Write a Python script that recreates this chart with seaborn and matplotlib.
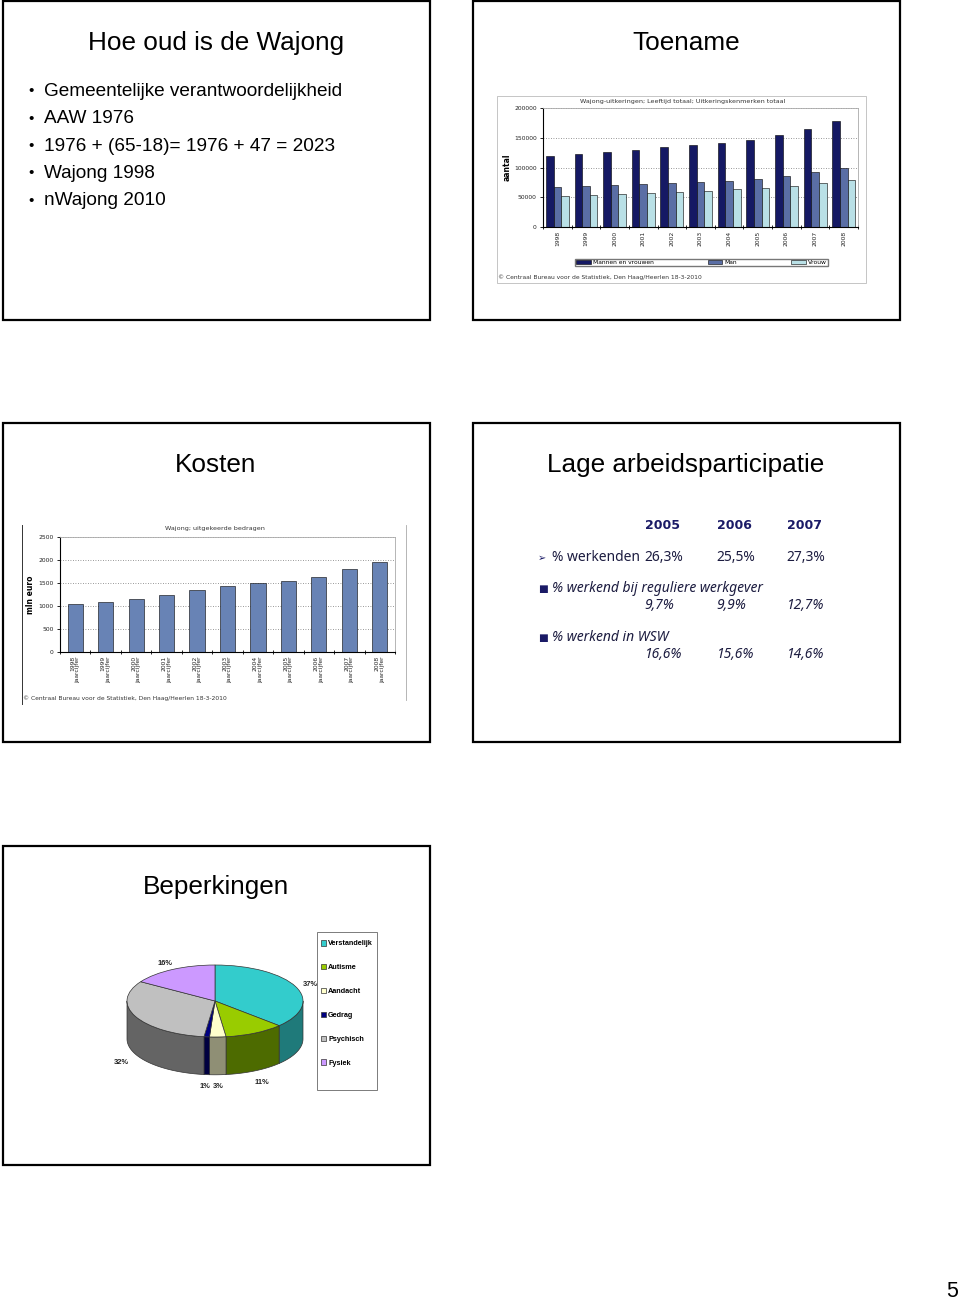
import numpy as np
import pandas as pd
import seaborn as sns
import matplotlib
matplotlib.use('Agg')
import matplotlib.pyplot as plt
from matplotlib.patches import Rectangle, Polygon
from matplotlib.lines import Line2D

# --- data -------------------------------------------------------------
years = ['1998', '1999', '2000', '2001', '2002', '2003', '2004', '2005', '2006', '2007', '2008']
groups = ['Mannen en vrouwen', 'Man', 'Vrouw']
totaal = [119000, 122700, 126600, 130000, 133900, 137800, 141200, 146800, 155200, 165300, 177600]
man = [67200, 68900, 71100, 71700, 73400, 75600, 77300, 80700, 85200, 92400, 98600]
vrouw = [51500, 53200, 56000, 57100, 59400, 61100, 63900, 65000, 68900, 73900, 78400]

kosten_labels = [y + '\njaarcijfer' for y in years]
kosten = [1050, 1090, 1160, 1250, 1345, 1435, 1490, 1550, 1640, 1795, 1965]

part_years = ['2005', '2006', '2007']
part_rows = ['% werkenden', '% werkend bij reguliere werkgever', '% werkend in WSW']
part_vals = [['26,3%', '25,5%', '27,3%'],
             ['9,7%', '9,9%', '12,7%'],
             ['16,6%', '15,6%', '14,6%']]

pie_labels = ['Verstandelijk', 'Autisme', 'Aandacht', 'Gedrag', 'Psychisch', 'Fysiek']
pie_vals = [37, 11, 3, 1, 32, 16]

bullets = ['Gemeentelijke verantwoordelijkheid', 'AAW 1976',
           '1976 + (65-18)= 1976 + 47 = 2023', 'Wajong 1998', 'nWajong 2010']

toename_colors = ['#151964', '#5a6ea5', '#b9e0e6']
kosten_color = '#6883b5'
pie_top = ['#33cccc', '#99cc00', '#ffffcc', '#000080', '#c0c0c0', '#cc99ff']
pie_side = ['#1f7a7a', '#4d6b00', '#8f8f75', '#000040', '#646464', '#7a5c99']

SRC = '\u00a9 Centraal Bureau voor de Statistiek, Den Haag/Heerlen 18-3-2010'

# --- page geometry (pixels) --------------------------------------------
W, H = 960, 1301


def fx(x):
    return x / W


def fy(y):
    return 1 - y / H


def rect(x0, y0, x1, y1):
    return [x0 / W, 1 - y1 / H, (x1 - x0) / W, (y1 - y0) / H]


fig = plt.figure(figsize=(W / 100, H / 100), dpi=100)
SLIDE = 'Liberation Sans'
CH = 'DejaVu Sans'

slides = [(3, 1, 430, 320), (473, 1, 900, 320), (3, 423, 430, 742),
          (473, 423, 900, 742), (3, 846, 430, 1165)]
for x0, y0, x1, y1 in slides:
    fig.add_artist(Rectangle((fx(x0), fy(y1)), (x1 - x0) / W, (y1 - y0) / H,
                             transform=fig.transFigure, fill=False, ec='black', lw=1.6))

titles = [('Hoe oud is de Wajong', 216, 50), ('Toename', 686, 50), ('Kosten', 216, 472),
          ('Lage arbeidsparticipatie', 686, 472), ('Beperkingen', 216, 894)]
for t, x, y in titles:
    fig.text(fx(x), fy(y), t, ha='center', va='baseline', fontsize=18.8, family=SLIDE)

for i, b in enumerate(bullets):
    y = 96 + i * 27.3
    fig.text(fx(31), fy(y - 0.5), '\u2022', ha='center', va='baseline', fontsize=11, family=SLIDE)
    fig.text(fx(44), fy(y), b, ha='left', va='baseline', fontsize=13.7, family=SLIDE)

fig.text(fx(952), fy(1297), '5', ha='center', va='baseline', fontsize=15.5, family=SLIDE)


def style_bar_axes(ax, ticks, n):
    ax.set_ylim(ticks[0], ticks[-1])
    ax.set_yticks(ticks)
    ax.set_yticklabels([str(t) for t in ticks], fontsize=4.3, family=CH, color='#222')
    ax.tick_params(axis='y', length=2.5, width=0.6, pad=2)
    ax.set_xticks(np.arange(-0.5, n + 0.5), minor=True)
    ax.tick_params(axis='x', which='major', length=0, pad=3)
    ax.tick_params(axis='x', which='minor', length=3.5, width=0.6, direction='inout')
    ax.yaxis.grid(True, linestyle=(0, (1, 2)), color='#777777', lw=0.6)
    ax.set_axisbelow(True)
    for s in ['left', 'bottom']:
        ax.spines[s].set_color('black')
        ax.spines[s].set_linewidth(0.8)
    for s in ['top', 'right']:
        ax.spines[s].set_color('#aaaaaa')
        ax.spines[s].set_linewidth(0.6)
    ax.set_xlabel('')


# --- Toename ------------------------------------------------------------
df_t = pd.DataFrame({
    'jaar': years * 3,
    'aantal': totaal + man + vrouw,
    'groep': [g for g in groups for _ in years],
})
ax1 = fig.add_axes(rect(543, 108, 858, 227))
sns.barplot(data=df_t, x='jaar', y='aantal', hue='groep', palette=toename_colors,
            saturation=1, edgecolor='black', linewidth=0.4, errorbar=None, ax=ax1)
handles, labels = ax1.get_legend_handles_labels()
ax1.get_legend().remove()
style_bar_axes(ax1, [0, 50000, 100000, 150000, 200000], len(years))
ax1.set_xticks(range(len(years)))
ax1.set_xticklabels(years, rotation=90, fontsize=4.3, family=CH, color='#222')
ax1.set_ylabel('aantal', fontsize=5.5, fontweight='bold', family=CH)
ax1.yaxis.set_label_coords(-0.10, 0.5)

fig.add_artist(Rectangle((fx(497), fy(283)), 369 / W, 187 / H, transform=fig.transFigure,
                         fill=False, ec='#bbbbbb', lw=0.6))
fig.text(fx(683), fy(101), 'Wajong-uitkeringen; Leeftijd totaal; Uitkeringskenmerken totaal',
         ha='center', va='center', fontsize=4.6, family=CH, color='#333')
fig.legend(handles, labels, ncol=3, loc='center', mode='expand',
           bbox_to_anchor=rect(575, 258, 828, 267), frameon=True,
           fancybox=False, edgecolor='#555555', handlelength=2.5, handleheight=0.8,
           handletextpad=0.4, borderpad=0.15, borderaxespad=0, prop={'family': CH, 'size': 4.3})
fig.text(fx(498), fy(277), SRC, ha='left', va='center', fontsize=4.3, family=CH, color='#333')

# --- Kosten -------------------------------------------------------------
ax2 = fig.add_axes(rect(60, 537, 395, 652))
sns.barplot(x=kosten_labels, y=kosten, color=kosten_color, saturation=1, width=0.5,
            edgecolor='black', linewidth=0.4, errorbar=None, ax=ax2)
style_bar_axes(ax2, [0, 500, 1000, 1500, 2000, 2500], len(years))
ax2.set_xticks(range(len(years)))
ax2.set_xticklabels(kosten_labels, rotation=90, fontsize=4.3, family=CH, color='#222',
                    multialignment='right', linespacing=1.0)
ax2.set_ylabel('mln euro', fontsize=5.5, fontweight='bold', family=CH)
ax2.yaxis.set_label_coords(-0.075, 0.5)
fig.text(fx(215), fy(529), 'Wajong; uitgekeerde bedragen', ha='center', va='center',
         fontsize=4.6, family=CH, color='#333')
fig.add_artist(Line2D([fx(22), fx(22)], [fy(525), fy(704)], transform=fig.transFigure,
                      color='#333333', lw=0.7))
fig.add_artist(Line2D([fx(406), fx(406)], [fy(525), fy(700)], transform=fig.transFigure,
                      color='#aaaaaa', lw=0.6))
fig.text(fx(23), fy(698), SRC, ha='left', va='center', fontsize=4.3, family=CH, color='#333')

# --- Lage arbeidsparticipatie --------------------------------------------
TB = ['Noto Sans', 'DejaVu Sans']
navy = '#1a1a66'
txt = '#1c1c40'
col_x = [645, 717, 787]
for x, yr in zip(col_x, part_years):
    fig.text(fx(x), fy(529), yr, ha='left', va='baseline', fontsize=9,
             fontweight='bold', family='DejaVu Sans', color=navy)
row_y = [(561, 561), (592, 609), (641, 658)]
for i, (lab, (ly, vy)) in enumerate(zip(part_rows, row_y)):
    style = 'normal' if i == 0 else 'italic'
    mark = '\u27a2' if i == 0 else '\u25a0'
    fig.text(fx(538), fy(ly), mark, ha='left', va='baseline', fontsize=7 if i == 0 else 7.5,
             family='DejaVu Sans', color=navy)
    fig.text(fx(552), fy(ly), lab, ha='left', va='baseline', fontsize=10,
             style=style, family=TB, color=txt)
    for x, v in zip(col_x, part_vals[i]):
        fig.text(fx(x - 1), fy(vy), v, ha='left', va='baseline', fontsize=10,
                 style=style, family=TB, color=txt)

# --- Beperkingen (3D-looking pie) ------------------------------------------
depth = 1.05
ax3 = fig.add_axes(rect(100, 950, 330, 1095))
wedges, _ = ax3.pie(pie_vals, colors=pie_top, startangle=90, counterclock=False,
                    radius=1, frame=True,
                    wedgeprops=dict(edgecolor='#333333', linewidth=0.5))
for w in wedges:
    w.set_zorder(3)
fr = np.array(pie_vals) / np.sum(pie_vals)
cum = np.concatenate([[0], np.cumsum(fr)])
for i in range(len(pie_vals)):
    t_hi = 90 - 360 * cum[i]
    t_lo = 90 - 360 * cum[i + 1]
    a, b = max(t_lo, -180), min(t_hi, 0)
    if a < b:
        t = np.radians(np.linspace(a, b, 80))
        xs, ys = np.cos(t), np.sin(t)
        pts = np.column_stack([np.r_[xs, xs[::-1]], np.r_[ys, ys[::-1] - depth]])
        ax3.add_patch(Polygon(pts, closed=True, fc=pie_side[i], ec='#333333',
                              lw=0.5, zorder=1))
    mid = np.radians((t_lo + t_hi) / 2)
    lx, ly = 1.18 * np.cos(mid), 1.18 * np.sin(mid)
    if ly < 0:
        ly -= depth + 0.15
    ax3.text(lx, ly, f'{pie_vals[i]}%', ha='center', va='center', fontsize=5.4,
             fontweight='bold', family=SLIDE, color='#222', zorder=5)
ax3.set_aspect('auto')
ax3.set_xlim((100 - 215) / 88, (330 - 215) / 88)
ax3.set_ylim(-(1095 - 1001) / 36, (1001 - 950) / 36)
ax3.axis('off')

fig.add_artist(Rectangle((fx(317), fy(1090)), 60 / W, 158 / H, transform=fig.transFigure,
                         fill=False, ec='#666666', lw=0.6))
fig.legend(wedges, pie_labels, loc='upper left', bbox_to_anchor=(fx(321), fy(940)),
           frameon=False, borderpad=0, borderaxespad=0, labelspacing=2.3,
           handlelength=0.7, handleheight=0.8, handletextpad=0.3,
           prop={'family': SLIDE, 'size': 5.2, 'weight': 'bold'})

fig.savefig('out.png', dpi=100)
